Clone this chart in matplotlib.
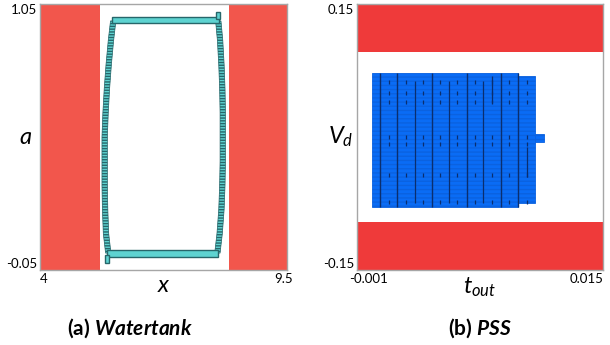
import matplotlib
matplotlib.use("Agg")
import matplotlib.pyplot as plt
from matplotlib.patches import Rectangle, Polygon
from matplotlib.transforms import ScaledTranslation
import numpy as np

plt.rcParams['font.family'] = ['Lato', 'DejaVu Sans']
plt.rcParams['mathtext.fontset'] = 'custom'
plt.rcParams['mathtext.it'] = 'Lato:italic'
plt.rcParams['mathtext.rm'] = 'Lato'
plt.rcParams['mathtext.bf'] = 'Lato:bold'
plt.rcParams['mathtext.bfit'] = 'Lato:bold:italic'

# ---------------- data: (a) Watertank ----------------
wt_xlim = [4.0, 9.5]
wt_ylim = [-0.05, 1.05]
wt_xticklabels = ["4", "9.5"]
wt_yticklabels = ["-0.05", "1.05"]
wt_unsafe_left = [4.0, 5.34]
wt_unsafe_right = [8.2, 9.5]
# reachable-set loop sides
wt_a_levels = [0.02, 0.10, 0.20, 0.30, 0.40, 0.50, 0.60, 0.70, 0.80, 0.90, 0.98]
wt_left_x = [5.52, 5.47, 5.45, 5.44, 5.44, 5.44, 5.46, 5.49, 5.53, 5.58, 5.63]
wt_right_x = [7.95, 8.00, 8.04, 8.06, 8.07, 8.07, 8.07, 8.06, 8.04, 8.01, 7.97]
wt_side_width = 0.12
# horizontal bars (x0, x1, a0, a1)
wt_top_bar = [5.60, 7.98, 0.970, 0.996]
wt_bottom_bar = [5.50, 7.96, 0.005, 0.033]
wt_top_bump = [7.93, 8.00, 0.990, 1.017]
wt_bottom_tail = [5.45, 5.53, -0.021, 0.010]

# ---------------- data: (b) PSS ----------------
pss_xlim = [-0.001, 0.015]
pss_ylim = [-0.15, 0.15]
pss_xticklabels = ["-0.001", "0.015"]
pss_yticklabels = ["-0.15", "0.15"]
pss_unsafe_top = [0.096, 0.15]
pss_unsafe_bottom = [-0.15, -0.096]
# blue reach boxes (x0, x1, y0, y1)
pss_boxes = [
    [0.0000, 0.00945, -0.0786, 0.0725],
    [0.00945, 0.01056, -0.0748, 0.0688],
    [0.01056, 0.01114, -0.0060, 0.0030],
]
pss_full_lines_x = [0.0005, 0.00162, 0.0039, 0.00613, 0.00835, 0.00945]
pss_partial_lines = [  # x, y0, y1
    [0.00277, -0.0740, 0.0630],
    [0.00498, -0.0740, 0.0630],
    [0.00722, -0.0740, 0.0630],
    [0.00776, 0.0383, 0.0690],
    [0.01004, -0.0448, -0.0110],
]
pss_dash_x = [0.00108, 0.00219, 0.00331, 0.0044, 0.00552, 0.00667, 0.00776, 0.00891, 0.01004]
pss_dash_y = [0.0624, 0.0500, 0.0398, -0.0004, -0.0079, -0.0429, -0.0730]

# ---------------- styles ----------------
red_a = "#F2564C"
red_b = "#EF3A3A"
cyan = "#5ED3D1"
cyan_edge = "#27666A"
blue = "#0A6CF5"
blue_edge = "#0B62E0"
navy = "#0A2E6E"
spine_c = "#A6A6A6"

W, H = 610, 345
fig = plt.figure(figsize=(W / 100, H / 100), dpi=100)
ax1 = fig.add_axes([40 / W, 1 - 270 / H, 247 / W, 266 / H])
ax2 = fig.add_axes([357 / W, 1 - 270 / H, 246 / W, 266 / H])

def style_axes(ax, xlim, ylim, xtl, ytl):
    ax.set_xlim(xlim)
    ax.set_ylim(ylim)
    ax.set_xticks(xlim)
    ax.set_yticks(ylim)
    ax.set_xticklabels(xtl)
    ax.set_yticklabels(ytl)
    ax.tick_params(length=0, labelsize=9.5, pad=2, colors="black")
    for s in ax.spines.values():
        s.set_color(spine_c)
        s.set_linewidth(1.0)
    xl = ax.get_xticklabels()
    xl[0].set_ha("left")
    xl[1].set_ha("right")
    yl = ax.get_yticklabels()
    yl[0].set_va("bottom")
    yl[1].set_va("top")

# ---- panel (a) ----
ax1.axvspan(*wt_unsafe_left, color=red_a, lw=0, zorder=1)
ax1.axvspan(*wt_unsafe_right, color=red_a, lw=0, zorder=1)
for xs in (wt_left_x, wt_right_x):
    xs = np.asarray(xs)
    a = np.asarray(wt_a_levels)
    verts = list(zip(xs - wt_side_width / 2, a)) + list(zip((xs + wt_side_width / 2)[::-1], a[::-1]))
    ax1.add_patch(Polygon(verts, closed=True, facecolor=cyan, edgecolor=cyan_edge,
                          hatch="------", lw=0.5, zorder=3))
for b in (wt_top_bar, wt_bottom_bar, wt_top_bump, wt_bottom_tail):
    ax1.add_patch(Rectangle((b[0], b[2]), b[1] - b[0], b[3] - b[2], facecolor=cyan,
                            edgecolor=cyan_edge, lw=1.0, zorder=4))
style_axes(ax1, wt_xlim, wt_ylim, wt_xticklabels, wt_yticklabels)
ax1.set_xlabel("$x$", fontsize=17, labelpad=0)
ax1.xaxis.set_label_coords(0.5, -0.02, transform=ax1.transAxes)
ax1.xaxis.label.set_va("top")
ax1.set_ylabel("$a$", fontsize=17, rotation=0, va="center", ha="center")
ax1.yaxis.set_label_coords(-0.057, 0.5)

# ---- panel (b) ----
ax2.axhspan(*pss_unsafe_top, color=red_b, lw=0, zorder=1)
ax2.axhspan(*pss_unsafe_bottom, color=red_b, lw=0, zorder=1)
for b in pss_boxes:
    ax2.add_patch(Rectangle((b[0], b[2]), b[1] - b[0], b[3] - b[2], facecolor=blue,
                            edgecolor=blue_edge, hatch="----", lw=0.6, zorder=3))
main = pss_boxes[0]
ax2.vlines(pss_full_lines_x, main[2], main[3], colors=navy, lw=1.0, zorder=4)
for x, y0, y1 in pss_partial_lines:
    ax2.vlines(x, y0, y1, colors=navy, lw=0.9, zorder=4)
dx, dy = np.meshgrid(pss_dash_x, pss_dash_y)
ax2.scatter(dx.ravel(), dy.ravel(), marker="|", s=6, c=navy, lw=0.9, zorder=5)
style_axes(ax2, pss_xlim, pss_ylim, pss_xticklabels, pss_yticklabels)
ax2.set_xlabel("$t_{out}$", fontsize=17, labelpad=0)
ax2.xaxis.set_label_coords(0.5, -0.02, transform=ax2.transAxes)
ax2.xaxis.label.set_va("top")
ax2.set_ylabel("$V_d$", fontsize=17, rotation=0, va="center", ha="center")
ax2.yaxis.set_label_coords(-0.065, 0.5)

# shift edge tick labels slightly outward like the reference
lab = ax2.get_xticklabels()[0]
lab.set_transform(lab.get_transform() + ScaledTranslation(-8 / 100, 0, fig.dpi_scale_trans))
lab = ax1.get_xticklabels()[1]
lab.set_transform(lab.get_transform() + ScaledTranslation(6 / 100, 0, fig.dpi_scale_trans))

# captions
fig.text(130 / W, 1 - 328 / H, r"(a) $\mathbfit{Watertank}$", fontsize=15,
         fontweight="bold", ha="center", va="center")
fig.text(480 / W, 1 - 328 / H, r"(b) $\mathbfit{PSS}$", fontsize=15,
         fontweight="bold", ha="center", va="center")

fig.savefig("out.png", dpi=100)
